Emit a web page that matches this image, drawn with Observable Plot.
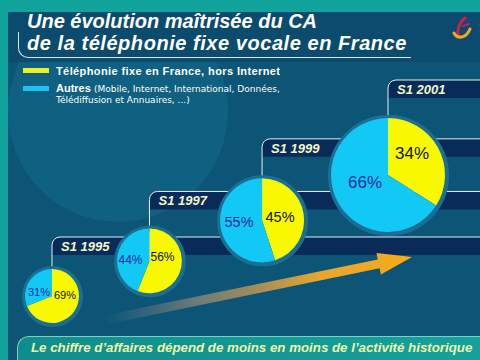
<!DOCTYPE html>
<html>
<head>
<meta charset="utf-8">
<script src="https://cdn.jsdelivr.net/npm/d3@7"></script>
<script src="https://cdn.jsdelivr.net/npm/@observablehq/plot@0.6"></script>
<style>
html, body { margin: 0; padding: 0; background: #0c5576; }
#slide { position: relative; width: 480px; height: 360px; overflow: hidden; background: #0c5576; font-family: "Liberation Sans", Arial, sans-serif; }
#glow { position: absolute; left: 8px; top: 0px; width: 220px; height: 222px; border-radius: 50%; background: #0f6081; }
#titlebg { position: absolute; left: 0; top: 12px; width: 480px; height: 50px; background: #0b4b6d; }
#topband { position: absolute; left: 0; top: 0; width: 480px; height: 12px; background: #12a39d; }
#leftstrip { position: absolute; left: 0; top: 0; width: 8px; height: 360px; background: #12a39d; }
#chart { position: absolute; left: 0; top: 0; width: 480px; height: 360px; }
.tline { position: absolute; left: 27px; color: #fff; font-weight: bold; font-style: italic; font-size: 20px; line-height: 20px; white-space: nowrap; }
#rule { position: absolute; left: 18px; top: 32px; width: 392px; height: 25px; border-left: 1px solid #d8e8ee; border-bottom: 1px solid #d8e8ee; border-bottom-left-radius: 10px; }
.sw { position: absolute; left: 23px; width: 26px; height: 5px; }
.lg { position: absolute; left: 56px; color: #fff; white-space: nowrap; }
.lgb { font-weight: bold; font-size: 11px; line-height: 11px; }
.lgs { font-family: "DejaVu Sans", sans-serif; font-size: 9px; font-weight: normal; letter-spacing: 0; }
#footer { position: absolute; left: 17px; top: 336px; width: 470px; height: 30px; border-top-left-radius: 12px; border-top: 1px solid #7fcfc0; border-left: 1px solid #7fcfc0; background: linear-gradient(to right, #0f8d8c, #15a29c); }
#ftext { position: absolute; left: 31px; top: 341px; font-weight: bold; font-style: italic; font-size: 13.3px; line-height: 13.3px; color: #eef6a6; white-space: nowrap; }
#logo { position: absolute; left: 448px; top: 14px; }
</style>
</head>
<body>
<div id="slide">
  <div id="glow"></div>
  <div id="titlebg"></div>
  <div id="topband"></div>
  <div id="leftstrip"></div>
  <div id="rule"></div>
  <div id="titles"></div>
  <div id="legend"></div>
  <div id="chart"></div>
  <div id="footer"></div>
  <div id="ftext"></div>
  <svg id="logo" width="30" height="30" viewBox="0 0 30 30">
    <path d="M17,4 C12,8 9,15 10,22" fill="none" stroke="#d4203c" stroke-width="3" stroke-linecap="round"/>
    <path d="M6,19 C9,25 18,25 22,15" fill="none" stroke="#f2a81e" stroke-width="3" stroke-linecap="round"/>
    <path d="M15,12 L21,10" fill="none" stroke="#b8206a" stroke-width="2" stroke-linecap="round"/>
  </svg>
</div>
<script>
// ---- data ----
const years = [1995, 1997, 1999, 2001];
const periodLabels = ["S1 1995", "S1 1997", "S1 1999", "S1 2001"];
const fixeShare = [69, 56, 45, 34];     // Téléphonie fixe en France, hors Internet (%)
const autresShare = [31, 44, 55, 66];   // Autres (%)
const seriesNames = ["Téléphonie fixe en France, hors Internet", "Autres"];
const autresDetail = ["(Mobile, Internet, International, Données,", "Télédiffusion et Annuaires, ...)"];
const titleLines = ["Une évolution maîtrisée du CA", "de la téléphonie fixe vocale en France"];
const footerText = "Le chiffre d’affaires dépend de moins en moins de l’activité historique";

// ---- layout / style (scale settings, not data) ----
const baseYear = 1990;            // time axis counted in years since 1990 (accelerating staircase)
const span = [1995 - baseYear, 2001 - baseYear];
const labelSize = [11, 12, 14.5, 17];
const labelOffset = {
  fixe: [[13, -1], [13, -4], [18, -3], [24, -22]],
  autres: [[-13, -4], [-19, -1], [-23, 2], [-23, 7]]
};
const colors = { fixe: "#f8f800", autres: "#12c8f5", ring: "#1b6f95", navy: "#092b5a",
  line: "#e4eef0", period: "#f2f8c6", fixeText: "#111111", autresText: "#1a2c9e" };

// ---- HTML text parts ----
const titles = document.getElementById("titles");
titleLines.forEach((t, i) => {
  const d = document.createElement("div");
  d.className = "tline"; d.style.top = (11 + 22 * i) + "px"; d.textContent = t;
  if (i === 1) d.style.letterSpacing = "0.55px";
  titles.appendChild(d);
});
const legend = document.getElementById("legend");
legend.innerHTML =
  `<div class="sw" style="top:68px;background:#eef01c"></div>` +
  `<div class="lg lgb" style="top:66px;letter-spacing:0.4px">${seriesNames[0]}</div>` +
  `<div class="sw" style="top:86px;background:#1ec2f2"></div>` +
  `<div class="lg lgb" style="top:83px">${seriesNames[1]} <span class="lgs">${autresDetail[0]}</span></div>` +
  `<div class="lg lgs" style="top:96px;line-height:9px">${autresDetail[1]}</div>`;
document.getElementById("ftext").textContent = footerText;

// ---- chart ----
const periods = years.map((year, i) => ({ year, since: year - baseYear, i, label: periodLabels[i], fixe: fixeShare[i], autres: autresShare[i] }));
const slices = periods.flatMap(p => [
  { ...p, series: "fixe", value: p.fixe, start: 0, end: p.fixe },
  { ...p, series: "autres", value: p.autres, start: p.fixe, end: p.fixe + p.autres }
]);
const bandScale = Plot.scale({ y: { type: "pow", exponent: 1.5, domain: span, range: [237, 80] } });

function bandsMark(index, scales, values, dims) {
  const g = d3.create("svg:g");
  const W = dims.width, h = 18, rad = 8;
  for (const p of periods) {
    const x0 = scales.x(p.since), yT = bandScale.apply(p.since), yC = scales.y(p.since);
    g.append("path")
      .attr("d", `M${x0},${yT + h}V${yT + rad}A${rad},${rad} 0 0 1 ${x0 + rad},${yT}H${W}V${yT + h}Z`)
      .attr("fill", colors.navy);
    g.append("path")
      .attr("d", `M${x0},${yC}V${yT + rad}A${rad},${rad} 0 0 1 ${x0 + rad},${yT}H${W}`)
      .attr("fill", "none").attr("stroke", colors.line).attr("stroke-width", 1);
    g.append("text")
      .attr("x", x0 + 9).attr("y", yT + 14)
      .attr("text-anchor", "start")
      .attr("fill", colors.period)
      .attr("font-family", "Liberation Sans, Arial, sans-serif")
      .attr("font-weight", "bold").attr("font-style", "italic").attr("font-size", 13)
      .text(p.label);
  }
  return g.node();
}

function arrowMark(index, scales, values, dims) {
  const g = d3.create("svg:g");
  // decorative trend arrow from 1996 up past 2001
  const x0 = scales.x(1996 - baseYear) + 6, y0 = 320, x1 = scales.x(span[1]) + 24, y1 = 257;
  const L = Math.hypot(x1 - x0, y1 - y0), ux = (x1 - x0) / L, uy = (y1 - y0) / L, nx = -uy, ny = ux;
  const hw = 4.5, hl = 34, hh = 11;
  const bx = x1 - ux * hl, by = y1 - uy * hl;
  const pts = [
    [x0 + nx * hw, y0 + ny * hw], [bx + nx * hw, by + ny * hw], [bx + nx * hh, by + ny * hh],
    [x1, y1], [bx - nx * hh, by - ny * hh], [bx - nx * hw, by - ny * hw], [x0 - nx * hw, y0 - ny * hw]
  ];
  const grad = g.append("defs").append("linearGradient").attr("id", "arrowGrad")
    .attr("gradientUnits", "userSpaceOnUse").attr("x1", x0).attr("y1", y0).attr("x2", x1).attr("y2", y1);
  grad.append("stop").attr("offset", 0).attr("stop-color", "#7d8088").attr("stop-opacity", 0);
  grad.append("stop").attr("offset", 0.3).attr("stop-color", "#8f8778").attr("stop-opacity", 0.75);
  grad.append("stop").attr("offset", 0.7).attr("stop-color", "#e8a530").attr("stop-opacity", 1);
  grad.append("stop").attr("offset", 1).attr("stop-color", "#f7ab18").attr("stop-opacity", 1);
  g.append("polygon").attr("points", pts.map(p => p.join(",")).join(" ")).attr("fill", "url(#arrowGrad)");
  return g.node();
}

function piesMark(index, scales) {
  const g = d3.create("svg:g");
  const arc = d3.arc().innerRadius(0);
  for (const s of slices) {
    const cx = scales.x(s.since), cy = scales.y(s.since), r = scales.r(s.since);
    g.append("path")
      .attr("transform", `translate(${cx},${cy})`)
      .attr("d", arc({ outerRadius: r, startAngle: s.start / 100 * 2 * Math.PI, endAngle: s.end / 100 * 2 * Math.PI }))
      .attr("fill", colors[s.series]);
  }
  for (const s of slices) {
    const cx = scales.x(s.since), cy = scales.y(s.since);
    const [dx, dy] = labelOffset[s.series][s.i];
    g.append("text")
      .attr("x", cx + dx).attr("y", cy + dy)
      .attr("text-anchor", "middle").attr("dominant-baseline", "central")
      .attr("font-family", "Liberation Sans, Arial, sans-serif")
      .attr("font-size", labelSize[s.i])
      .attr("fill", s.series === "fixe" ? colors.fixeText : colors.autresText)
      .text(s.value + "%");
  }
  return g.node();
}

const chart = Plot.plot({
  width: 480,
  height: 360,
  margin: 0,
  x: { type: "pow", exponent: 1.5, domain: span, range: [52, 388], axis: null },
  y: { type: "pow", exponent: 1.5, domain: span, range: [296, 175], axis: null },
  r: { type: "pow", exponent: 3, domain: span, range: [27, 57] },
  style: { background: "transparent", overflow: "visible" },
  marks: [
    bandsMark,
    arrowMark,
    Plot.dot(periods, { x: "since", y: "since", r: "since", fill: "none", stroke: colors.ring, strokeWidth: 7 }),
    piesMark
  ]
});
document.getElementById("chart").appendChild(chart);
</script>
</body>
</html>
